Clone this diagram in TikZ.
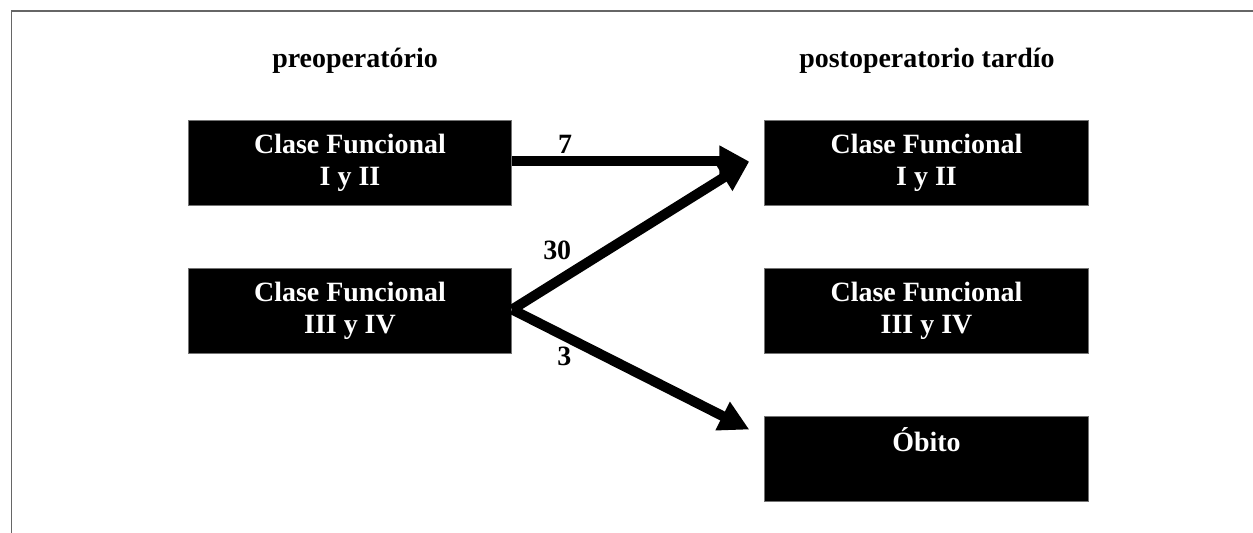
\documentclass[tikz,border=0pt]{standalone}
\usepackage{fontspec}
\setmainfont{Liberation Serif}
\usetikzlibrary{arrows.meta,positioning}
\newcommand{\cffont}{\fontsize{15.9}{18.2}\selectfont\bfseries}
\tikzset{
  cfbox/.style={draw=black!55,fill=black,line width=0.5pt,minimum width=6.47cm,minimum height=1.7cm,
    inner sep=0pt,align=center,text=white,font=\cffont},
  head/.style={font=\cffont,inner sep=0pt,anchor=base},
  arr/.style={-{Triangle[length=0.6cm,width=0.6cm]},line width=0.2cm,color=black},
  num/.style={font=\cffont,inner sep=0pt},
}
\begin{document}
\begin{tikzpicture}[x=0.02cm,y=-0.02cm]
  \useasboundingbox (0,0) rectangle (1253,533);
  % frame
  \draw[black!60,line width=0.04cm] (11.5,533) -- (11.5,11.5) -- (1253,11.5);
  % headings
  \node[head] (hpre)  at (355,68) {preoperatório};
  \node[head] (hpost) at (927,68) {postoperatorio tardío};
  % boxes
  \node[cfbox] (l1) at (350,163)   {Clase Funcional\\I y II};
  \node[cfbox] (l2) at (350,311)   {Clase Funcional\\III y IV};
  \node[cfbox] (r1) at (926.5,163) {Clase Funcional\\I y II};
  \node[cfbox] (r2) at (926.5,311) {Clase Funcional\\III y IV};
  \node[cfbox] (r3) at (926.5,459) {Óbito\\\phantom{I y II}};
  % transitions
  \draw[arr] ([yshift=0.03cm]l1.east) -- node[num,pos=0.223,above=0.06cm]{7} ([xshift=-0.3cm,yshift=0.03cm]r1.west);
  \draw[arr] ([yshift=0.03cm]l2.east) -- node[num,pos=0.19,above=0.33cm]{30} ([xshift=-0.3cm,yshift=0.03cm]r1.west);
  \draw[arr] ([yshift=0.03cm]l2.east) -- node[num,pos=0.22,below=0.12cm]{3} ([xshift=-0.3cm,yshift=-0.27cm]r3.north west);
\end{tikzpicture}
\end{document}
